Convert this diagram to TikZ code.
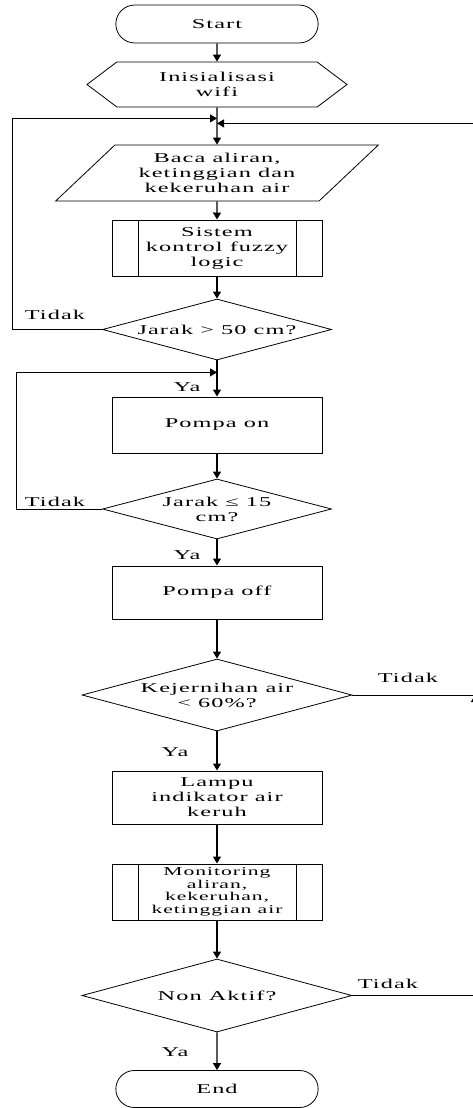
\documentclass[tikz,border=0pt]{standalone}
\usepackage{fontspec}
\setmainfont[FakeStretch=1.8,LetterSpace=8]{Liberation Serif}
\usetikzlibrary{arrows.meta,positioning,shapes.geometric,shapes.misc,shapes.symbols}

\begin{document}
\begin{tikzpicture}[x=1pt, y=-1pt, >={Triangle[length=7pt,width=8pt]},
 every node/.style={font=\fontsize{13.5}{15}\selectfont},
 term/.style={draw,rounded rectangle,minimum width=209pt,minimum height=38pt,line width=0.8pt},
 prep/.style={draw,signal,signal to=west and east,signal pointer angle=74,
 minimum width=260pt,minimum height=45pt,inner sep=1pt,align=center,line width=0.8pt},
 io/.style={draw,trapezium,trapezium left angle=42,trapezium right angle=138,
 trapezium stretches=true,minimum width=323pt,minimum height=56pt,inner sep=1pt,
 align=center,line width=0.8pt},
 proc/.style={draw,minimum width=210pt,minimum height=56pt,inner sep=1pt,
 align=center,line width=1pt},
 subproc/.style={proc,path picture={
 \draw[line width=1pt] ([xshift=26pt]path picture bounding box.north west)
 -- ([xshift=26pt]path picture bounding box.south west)
 ([xshift=-26pt]path picture bounding box.north east)
 -- ([xshift=-26pt]path picture bounding box.south east);}},
 dec/.style={draw,diamond,aspect=3.75,inner sep=0pt,align=center,line width=0.8pt},
 lbl/.style={inner sep=1pt},
 flow/.style={->,line width=1.2pt},
 loop/.style={->,line width=0.8pt}]
\useasboundingbox (0,0) rectangle (472,1108);

% main column
\node[term] (start) at (217,24) {Start};
\node[prep] (wifi) at (217,84.5) {Inisialisasi\\wifi};
\node[io] (baca) at (217,173) {Baca aliran,\\ketinggian dan\\kekeruhan air};
\node[subproc] (fuzzy) at (217,248) {Sistem\\kontrol fuzzy\\logic};
\node[dec,minimum width=229pt,minimum height=61pt] (jrk50) at (217,329.5) {Jarak > 50 cm?};
\node[proc] (on) at (217,425) {Pompa on};
\node[dec,minimum width=229pt,minimum height=60pt] (jrk15) at (217,509) {Jarak ≤ 15\\cm?};
\node[proc,minimum height=53pt] (off) at (217,592.5) {Pompa off};
\node[dec,minimum width=270pt,minimum height=72pt] (jernih) at (217,695) {Kejernihan air\\< 60\%?};
\node[proc,minimum height=53pt] (lampu) at (217,797.5) {Lampu\\indikator air\\keruh};
\node[subproc,font=\fontsize{12}{12.5}\selectfont] (monitor) at (217,892)
 {Monitoring\\aliran,\\kekeruhan,\\ketinggian air};
\node[dec,minimum width=270pt,minimum height=73pt] (aktif) at (217,995.5) {Non Aktif?};
\node[term,minimum height=37pt] (end) at (217,1089) {End};

% join points
\coordinate[below=11pt of wifi.south] (ja);
\coordinate[below=16pt of wifi.south] (jb);
\coordinate[below=12pt of jrk50.south] (jc);
\coordinate (lx) at (12,0);
\coordinate (lx2) at (16,0);
\coordinate (rx) at (475,0);

\draw[flow] (start) -- (wifi);
\draw[flow] (wifi) -- (baca);
\draw[flow] (baca) -- (fuzzy);
\draw[flow] (fuzzy) -- (jrk50);
\draw[flow] (jrk50) -- (on);
\draw[flow] (on) -- (jrk15);
\draw[flow] (jrk15) -- (off);
\draw[flow] (off) -- (jernih);
\draw[flow] (jernih) -- (lampu);
\draw[flow] (lampu) -- (monitor);
\draw[flow] (monitor) -- (aktif);
\draw[flow] (aktif) -- (end);

% loops back
\draw[loop] (jrk50.west) -- (jrk50.west -| lx) |- (ja);
\draw[loop] (jrk15.west) -- (jrk15.west -| lx2) |- (jc);
\draw[loop] (jernih.east) -- (jernih.east -| rx) |- (jb);
\draw[loop] (aktif.east) -- (aktif.east -| rx) -- (jernih.east -| rx);

% labels
\node[lbl] (t1) at (55,315) {Tidak};
\node[lbl] (y1) at (187,387) {Ya};
\node[lbl] (t2) at (55,502) {Tidak};
\node[lbl] (y2) at (187,555) {Ya};
\node[lbl] (t3) at (408,678) {Tidak};
\node[lbl] (y3) at (175,752) {Ya};
\node[lbl] (t4) at (388,984) {Tidak};
\node[lbl] (y4) at (175,1052) {Ya};
\end{tikzpicture}
\end{document}
